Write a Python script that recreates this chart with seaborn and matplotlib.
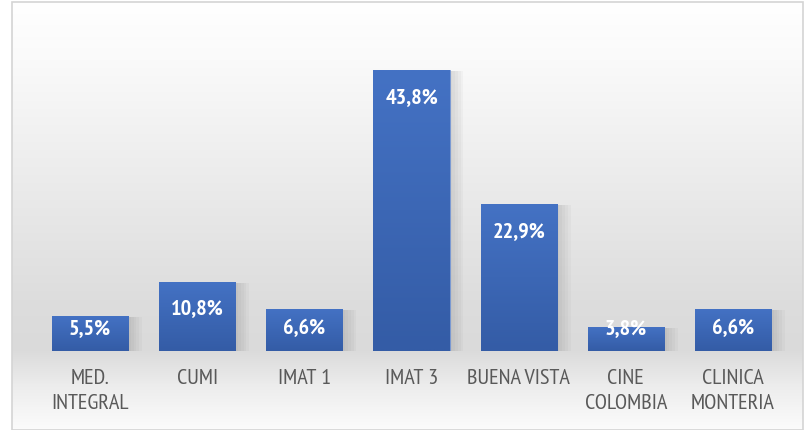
import numpy as np
import pandas as pd
import matplotlib.pyplot as plt
import seaborn as sns
from matplotlib.patches import Rectangle
import matplotlib.patheffects as pe

categories = ['MED.\nINTEGRAL', 'CUMI', 'IMAT 1', 'IMAT 3', 'BUENA VISTA', 'CINE\nCOLOMBIA', 'CLINICA\nMONTERIA']
values = [5.5, 10.8, 6.6, 43.8, 22.9, 3.8, 6.6]
labels = ['5,5%', '10,8%', '6,6%', '43,8%', '22,9%', '3,8%', '6,6%']

df = pd.DataFrame({'lugar': categories, 'pct': values})

sns.set_style("white")
narrow = ['PT Sans Narrow', 'Archivo Narrow', 'DejaVu Sans']
plt.rcParams['font.family'] = narrow

W, H = 807, 431
fig = plt.figure(figsize=(W / 100, H / 100), dpi=100)
fig.patch.set_facecolor('white')

# background gradient (white top, grey near baseline, white again at bottom)
bg = fig.add_axes([12 / W, 0, (803 - 12) / W, (431 - 3) / H])
rows = np.arange(3, 431)
shade = np.interp(rows, [3, 60, 200, 300, 350, 385, 431], [255, 250, 233, 221, 218, 236, 252]) / 255
shade_img = np.repeat(shade[:, None], 4, axis=1)
bg.imshow(np.dstack([shade_img] * 3), aspect='auto', extent=[0, 1, 0, 1], interpolation='nearest')
bg.set_axis_off()
fig.patches.append(Rectangle((12 / W, 0), (803 - 12) / W, (431 - 3) / H, transform=fig.transFigure,
                             fill=False, edgecolor='#d4d4d4', linewidth=1.2))

ax = fig.add_axes([36.5 / W, (431 - 352) / H, 750 / W, 321 / H])
ax.patch.set_alpha(0)
sns.barplot(data=df, x='lugar', y='pct', ax=ax, color='#3f69b9', width=0.71, saturation=1)
ax.set_xlim(-0.5, len(categories) - 0.5)
ax.set_ylim(0, 50)

# vertical gradient on each bar + soft shadow
grad = np.linspace(0, 1, 64)[:, None]
top = np.array([68, 114, 196]) / 255
bot = np.array([52, 92, 166]) / 255
img = top * (1 - grad[..., None]) + bot * grad[..., None]
img = np.repeat(img, 2, axis=1)
shadow = [pe.SimplePatchShadow(offset=(d, -1), shadow_rgbFace='#707070', alpha=0.05) for d in (2, 4, 6, 8, 10)]
for p in ax.patches:
    x0, w, h = p.get_x(), p.get_width(), p.get_height()
    p.set_path_effects(shadow + [pe.Normal()])
    p.set_edgecolor('#7a9ad6')
    p.set_linewidth(0.6)
    im = ax.imshow(img, extent=[x0, x0 + w, 0, h], aspect='auto', zorder=p.get_zorder() + 0.1,
                   interpolation='bilinear')
    im.set_clip_path(p)

for i, (v, t) in enumerate(zip(values, labels)):
    ax.text(i, max(v - 4.1, 3.6), t, ha='center', va='center', color='white',
            fontsize=16, fontweight='bold', family=narrow, zorder=5)

for s in ax.spines.values():
    s.set_visible(False)
ax.set_yticks([])
ax.set_xlabel('')
ax.set_ylabel('')
ax.tick_params(axis='x', length=0, pad=12)
for lbl in ax.get_xticklabels():
    lbl.set_color('#595959')
    lbl.set_fontsize(16)
    lbl.set_linespacing(1.4)
    lbl.set_family(narrow)

fig.savefig('out.png', dpi=100)
